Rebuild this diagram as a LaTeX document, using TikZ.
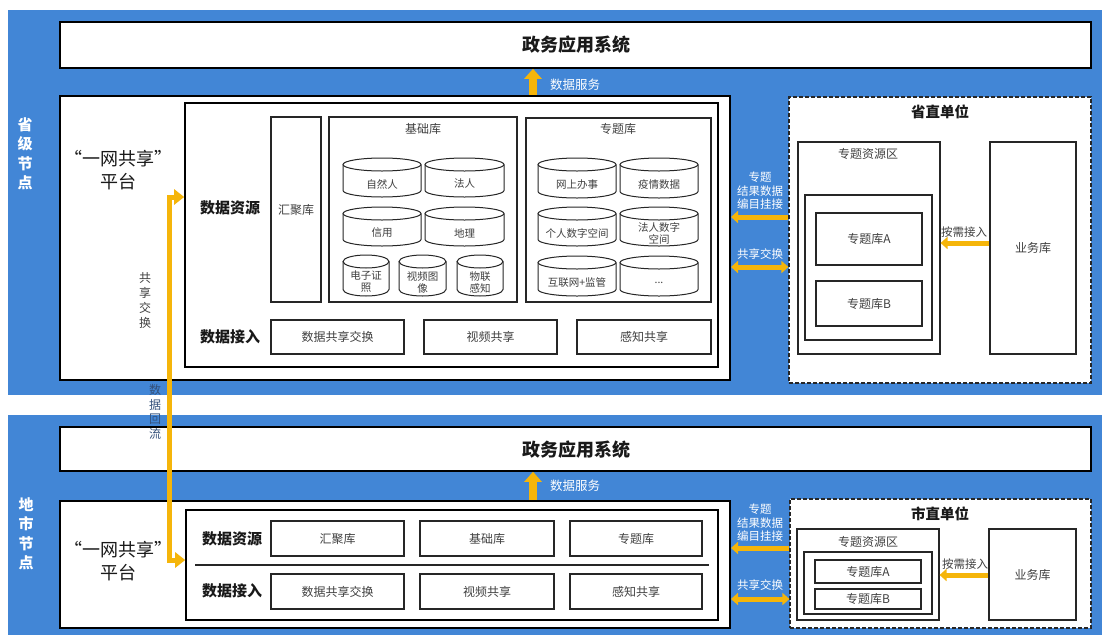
\documentclass[tikz,border=0pt]{standalone}
\usepackage{fontspec}
\setmainfont{Noto Sans CJK SC}
\usetikzlibrary{arrows.meta}
\definecolor{bandblue}{RGB}{66,134,214}
\definecolor{arrowyellow}{RGB}{245,181,10}
\definecolor{boxtext}{RGB}{64,64,64}
\definecolor{titletext}{RGB}{25,25,25}
\definecolor{flowtext}{RGB}{52,80,122}
\newcommand\rbox[7][]{%
  \pgfmathsetmacro\rbxc{(#3+#5)/2}\pgfmathsetmacro\rbyc{(#4+#6)/2}%
  \pgfmathsetmacro\rbw{#5-#3}\pgfmathsetmacro\rbh{#6-#4}%
  \node[rbase,#1,minimum width=\rbw pt,minimum height=\rbh pt] (#2) at (\rbxc,\rbyc) {#7};}
\newcommand\mycyl[6]{%
  \pgfmathsetmacro\cycx{(#2+#4)/2}\pgfmathsetmacro\cyrx{(#4-#2)/2}%
  \pgfmathsetmacro\cyya{#3+6.5}\pgfmathsetmacro\cyyb{#5-6.5}\pgfmathsetmacro\cyym{(#3+13+#5)/2}%
  \draw[cylline] (\cycx,\cyya) ellipse[x radius=\cyrx pt, y radius=6.5pt];
  \draw[cylline] (#2,\cyya) -- (#2,\cyyb) arc[start angle=180,end angle=360,x radius=\cyrx pt,y radius=6.5pt] -- (#4,\cyya);
  \node[cyltext] (#1) at (\cycx,\cyym) {#6};}
\begin{document}
\begin{tikzpicture}[x=1pt,y=-1pt,
  rbase/.style={draw=black!85,line width=1.1pt,fill=white,rectangle,inner sep=0pt,
    text=boxtext,font=\fontsize{12}{14}\selectfont,align=center},
  thickbox/.style={line width=2pt,draw=black},
  midbox/.style={line width=1.6pt,draw=black},
  dashbox/.style={line width=1.2pt,dash pattern=on 4pt off 2pt,draw=black!85},
  cylline/.style={draw=black!85,line width=1pt},
  cyltext/.style={text=boxtext,font=\fontsize{10.5}{12}\selectfont,align=center,inner sep=0pt},
  boxtitle/.style={text=boxtext,font=\fontsize{12}{14}\selectfont,inner sep=0pt},
  bigtitle/.style={text=titletext,font=\bfseries\fontsize{18}{20}\selectfont,inner sep=0pt},
  sectitle/.style={text=titletext,font=\bfseries\fontsize{15}{17}\selectfont,inner sep=0pt},
  unittitle/.style={text=titletext,font=\bfseries\fontsize{14.5}{17}\selectfont,inner sep=0pt},
  platlabel/.style={text=titletext,font=\fontsize{18}{23}\selectfont,align=center,inner sep=0pt},
  nodelabel/.style={text=white,font=\bfseries\fontsize{15}{19.5}\selectfont,align=center,inner sep=0pt},
  whitelabel/.style={text=white,font=\fontsize{11.5}{13.5}\selectfont,align=center,inner sep=0pt},
  darklabel/.style={text=boxtext,font=\fontsize{11.5}{13.5}\selectfont,align=center,inner sep=0pt},
  sidelabel/.style={text=boxtext,font=\fontsize{12}{15}\selectfont,align=center,inner sep=0pt},
  yarrow/.style={draw=arrowyellow,line width=5pt},
  fatarrow/.style={draw=arrowyellow,line width=7.5pt,-{Triangle[width=17pt,length=10pt]}}
]
\useasboundingbox (0,0) rectangle (1102,635);
\fill[white] (0,0) rectangle (1102,635);
% blue bands
\fill[bandblue] (8,10) rectangle (1102,395);
\fill[bandblue] (8,415) rectangle (1102,635);
\node[nodelabel] (lvlA) at (25,154) {省\\级\\节\\点};
\node[nodelabel] (lvlB) at (26,534) {地\\市\\节\\点};

% ================= TOP (provincial) =================
\rbox[midbox,line width=1.5pt]{appA}{60}{22}{1091}{68}{}
\node[bigtitle] (appAt) at (576,45) {政务应用系统};

\rbox[thickbox]{platA}{60}{96}{730}{380}{}
\rbox[midbox]{inA}{185}{103}{718}{367}{}
\node[platlabel] (platAt) at (118,170) {“一网共享”\\平台};
\node[sectitle] (resA) at (230,208) {数据资源};
\node[sectitle] (accA) at (230,337) {数据接入};

\rbox{hjA}{271}{117}{321}{302}{汇聚库}
\rbox{jcA}{329}{117}{517}{302}{}
\node[boxtitle] (jcAt) at (423,129) {基础库};
\mycyl{c1}{343}{158}{421}{197}{自然人}
\mycyl{c2}{425}{158}{504}{197}{法人}
\mycyl{c3}{343}{207}{421}{246}{信用}
\mycyl{c4}{425}{207}{504}{246}{地理}
\mycyl{c5}{343}{255}{389}{296}{电子证\\照}
\mycyl{c6}{399}{255}{446}{296}{视频图\\像}
\mycyl{c7}{457}{255}{503}{296}{物联\\感知}

\rbox{ztA}{526}{118}{711}{302}{}
\node[boxtitle] (ztAt) at (618,129) {专题库};
\mycyl{d1}{538}{158}{616}{198}{网上办事}
\mycyl{d2}{620}{158}{698}{198}{疫情数据}
\mycyl{d3}{538}{207}{616}{246}{个人数字空间}
\mycyl{d4}{620}{207}{698}{246}{法人数字\\空间}
\mycyl{d5}{538}{256}{616}{296}{互联网+监管}
\mycyl{d6}{620}{256}{698}{296}{...}

\rbox{sxA}{271}{320}{404}{354}{数据共享交换}
\rbox{spA}{424}{320}{557}{354}{视频共享}
\rbox{gzA}{577}{320}{711}{354}{感知共享}

% data service arrow
\coordinate (dsx) at (533,0);
\draw[fatarrow] (platA.north -| dsx) -- (appA.south -| dsx);
\node[whitelabel,font=\fontsize{12.5}{14}\selectfont] (dsA) at (575,85) {数据服务};

% provincial unit
\rbox[dashbox]{unitA}{789}{97}{1091}{383}{}
\node[unittitle] (unitAt) at (940,112) {省直单位};
\rbox{zyA}{798}{142}{940}{354}{}
\node[boxtitle] (zyAt) at (868,154) {专题资源区};
\rbox{zyinA}{805}{195}{932}{340}{}
\rbox{zkAa}{816}{213}{922}{265}{专题库A}
\rbox{zkAb}{816}{281}{922}{326}{专题库B}
\rbox{ywA}{990}{142}{1076}{354}{业务库}

\coordinate (yA1) at (0,217);
\coordinate (yA2) at (0,267);
\coordinate (yA3) at (0,243);
\draw[yarrow,-{Triangle[width=12pt,length=7pt]}] (unitA.west |- yA1) -- (platA.east |- yA1);
\draw[yarrow,{Triangle[width=12pt,length=7pt]}-{Triangle[width=12pt,length=7pt]}] (platA.east |- yA2) -- (unitA.west |- yA2);
\draw[yarrow,-{Triangle[width=12pt,length=7pt]}] (ywA.west |- yA3) -- (zyA.east |- yA3);
\node[whitelabel] (mlA) at (760,191) {专题\\结果数据\\编目挂接};
\node[whitelabel] (exA) at (760,254) {共享交换};
\node[darklabel] (xqA) at (964,232) {按需接入};

% ================= BOTTOM (city) =================
\rbox[midbox,line width=1.5pt]{appB}{60}{427}{1091}{471}{}
\node[bigtitle] (appBt) at (576,450) {政务应用系统};

\rbox[thickbox]{platB}{60}{501}{730}{628}{}
\rbox[midbox]{inB}{186}{510}{718}{620}{}
\node[platlabel] (platBt) at (118,561) {“一网共享”\\平台};
\node[sectitle] (resB) at (232,539) {数据资源};
\node[sectitle] (accB) at (232,591) {数据接入};
\rbox{hjB}{271}{521}{404}{556}{汇聚库}
\rbox{jcB}{420}{521}{554}{556}{基础库}
\rbox{ztB}{570}{521}{702}{556}{专题库}
\coordinate (sepL) at (195,565);
\coordinate (sepR) at (709,565);
\draw[line width=1.1pt,black!85] (sepL) -- (sepR);
\rbox{sxB}{271}{574}{404}{609}{数据共享交换}
\rbox{spB}{420}{574}{554}{609}{视频共享}
\rbox{gzB}{570}{574}{702}{609}{感知共享}

\draw[fatarrow] (platB.north -| dsx) -- (appB.south -| dsx);
\node[whitelabel,font=\fontsize{12.5}{14}\selectfont] (dsB) at (575,486) {数据服务};

\rbox[dashbox]{unitB}{790}{499}{1091}{628}{}
\node[unittitle] (unitBt) at (940,514) {市直单位};
\rbox{zyB}{797}{529}{939}{620}{}
\node[boxtitle] (zyBt) at (868,542) {专题资源区};
\rbox{zyinB}{804}{552}{932}{614}{}
\rbox{zkBa}{815}{560}{921}{583}{专题库A}
\rbox{zkBb}{815}{589}{921}{609}{专题库B}
\rbox{ywB}{989}{529}{1076}{620}{业务库}

\coordinate (yB1) at (0,548);
\coordinate (yB2) at (0,599);
\coordinate (yB3) at (0,575);
\draw[yarrow,-{Triangle[width=12pt,length=7pt]}] (unitB.west |- yB1) -- (platB.east |- yB1);
\draw[yarrow,{Triangle[width=12pt,length=7pt]}-{Triangle[width=12pt,length=7pt]}] (platB.east |- yB2) -- (unitB.west |- yB2);
\draw[yarrow,-{Triangle[width=12pt,length=7pt]}] (ywB.west |- yB3) -- (zyB.east |- yB3);
\node[whitelabel] (mlB) at (760,523) {专题\\结果数据\\编目挂接};
\node[whitelabel] (exB) at (760,585) {共享交换};
\node[darklabel] (xqB) at (965,564) {按需接入};

% ================= vertical exchange connector =================
\coordinate (vt) at (0,197);
\coordinate (vb) at (0,560);
\draw[yarrow,{Triangle[width=15pt,length=10pt]}-{Triangle[width=15pt,length=10pt]}]
  (inA.west |- vt) -- ++(-15,0) |- (inB.west |- vb);
\node[sidelabel] (shareL) at (145,300) {共\\享\\交\\换};
\node[sidelabel,text=flowtext,font=\fontsize{12}{14.5}\selectfont] (backL) at (155,412) {数\\据\\回\\流};
\end{tikzpicture}
\end{document}
